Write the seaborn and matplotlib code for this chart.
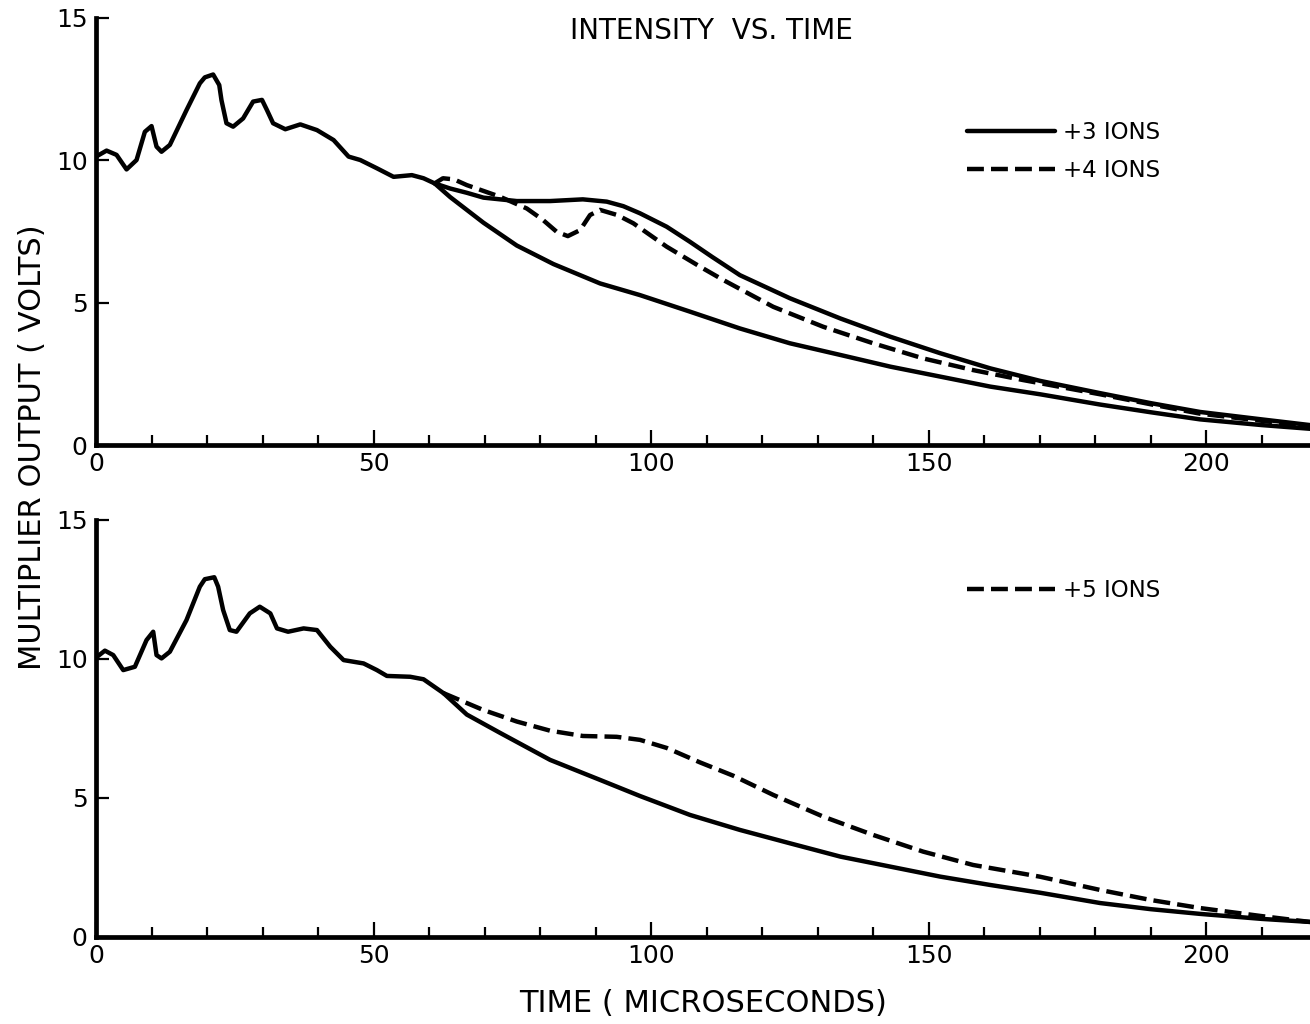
import matplotlib
matplotlib.use('Agg')
import matplotlib.pyplot as plt
from matplotlib.ticker import MultipleLocator
import numpy as np
import pandas as pd
import seaborn as sns

# ---- data (time in microseconds, output in volts) ----
# upper panel, part shared by all curves
t_top = [0, 1.9, 3.7, 5.5, 7.3, 8.8, 10.0, 10.9, 11.8, 13.3, 16.3, 18.7, 19.6, 21.1,
         22.2, 22.6, 23.5, 24.7, 26.5, 28.3, 29.9, 30.8, 31.9, 34.1, 36.8, 39.8,
         42.8, 45.5, 47.6, 50.6, 53.6, 56.9, 59.0, 61.0]
v_top = [10.12, 10.33, 10.18, 9.67, 10.0, 10.99, 11.19, 10.47, 10.29, 10.53, 11.75,
         12.69, 12.9, 13.0, 12.63, 12.1, 11.29, 11.17, 11.46, 12.05, 12.11, 11.75,
         11.29, 11.08, 11.25, 11.05, 10.7, 10.12, 10.0, 9.71, 9.41, 9.47, 9.36, 9.18]

# upper panel, lower unlabelled solid curve
t_low_top = [61.0, 63.8, 66.8, 69.8, 75.8, 82.4, 90.8, 98.0, 107.0, 116.0, 125.0,
             134.1, 143.1, 152.1, 161.1, 170.1, 180.9, 190.0, 198.9, 210.0, 218.7]
v_low_top = [9.18, 8.7, 8.25, 7.8, 7.0, 6.35, 5.67, 5.26, 4.68, 4.09, 3.57, 3.16,
             2.75, 2.4, 2.05, 1.78, 1.42, 1.15, 0.9, 0.7, 0.57]

# +3 ions
t_plus3 = [61.0, 63.8, 66.8, 69.8, 75.8, 81.8, 87.7, 92.0, 95.0, 98.0, 102.8, 107.0,
           111.0, 116.0, 125.0, 134.1, 143.1, 152.1, 161.1, 170.1, 180.9, 190.0,
           198.9, 210.0, 218.7]
v_plus3 = [9.18, 9.0, 8.85, 8.68, 8.56, 8.56, 8.62, 8.54, 8.38, 8.13, 7.66, 7.13,
           6.6, 5.96, 5.15, 4.44, 3.8, 3.22, 2.69, 2.25, 1.82, 1.47, 1.16, 0.9, 0.7]

# +4 ions
t_plus4 = [61.0, 62.5, 64.5, 66.8, 72.8, 77.6, 80.5, 83.0, 85.0, 87.2, 89.0, 90.8,
           93.9, 96.8, 102.8, 108.8, 113.0, 122.0, 131.0, 140.0, 149.0, 158.0,
           167.0, 180.9, 190.0, 198.9, 210.0, 218.7]
v_plus4 = [9.18, 9.36, 9.32, 9.12, 8.71, 8.3, 7.9, 7.48, 7.33, 7.54, 8.07, 8.25,
           8.07, 7.78, 6.96, 6.26, 5.79, 4.85, 4.15, 3.57, 3.04, 2.63, 2.28, 1.78,
           1.43, 1.1, 0.85, 0.65]

# lower panel, shared part
t_bot = [0, 1.6, 3.1, 4.9, 7.0, 9.1, 10.3, 10.9, 11.8, 13.3, 16.3, 18.7, 19.6, 21.3,
         22.0, 22.9, 24.1, 25.3, 27.7, 29.5, 31.4, 32.6, 34.6, 37.4, 39.8, 42.2,
         44.6, 48.2, 50.6, 52.4, 56.6, 59.0, 62.6]
v_bot = [10.05, 10.3, 10.14, 9.6, 9.72, 10.68, 10.98, 10.14, 10.02, 10.26, 11.4,
         12.6, 12.87, 12.94, 12.6, 11.76, 11.04, 10.98, 11.64, 11.88, 11.64, 11.1,
         10.98, 11.1, 11.04, 10.44, 9.96, 9.84, 9.6, 9.39, 9.36, 9.27, 8.77]

# lower panel, solid curve
t_low_bot = [62.6, 66.8, 72.8, 81.8, 90.8, 98.0, 107.0, 116.0, 125.0, 134.1, 143.1,
             152.1, 161.1, 170.1, 180.9, 190.0, 198.9, 210.0, 218.7]
v_low_bot = [8.77, 8.0, 7.34, 6.37, 5.65, 5.07, 4.39, 3.85, 3.37, 2.89, 2.53, 2.17,
             1.87, 1.59, 1.22, 1.0, 0.83, 0.65, 0.54]

# +5 ions
t_plus5 = [62.6, 69.7, 75.8, 81.8, 87.7, 93.8, 98.0, 102.8, 108.8, 114.8, 122.0,
           131.0, 140.0, 149.0, 158.0, 170.0, 180.9, 190.0, 198.9, 210.0, 218.7]
v_plus5 = [8.77, 8.17, 7.75, 7.42, 7.23, 7.2, 7.09, 6.8, 6.28, 5.8, 5.11, 4.33,
           3.67, 3.07, 2.59, 2.17, 1.69, 1.33, 1.04, 0.75, 0.54]

# ---- styling ----
sns.set_style('ticks', rc={'axes.edgecolor': 'black', 'xtick.color': 'black',
                           'ytick.color': 'black', 'text.color': 'black',
                           'axes.labelcolor': 'black'})
plt.rcParams['font.family'] = ['DejaVu Sans']

LW = 3.2
DASH = (0, (3.8, 1.6))
XMAX = 218.7

fig = plt.figure(figsize=(13.1, 10.24), dpi=100)
ax_top = fig.add_axes([0.0733, 0.5654, 0.9267, 0.4175])
ax_bot = fig.add_axes([0.0733, 0.0850, 0.9267, 0.4072])


def line(ax, t, v, dashed=False, label=None):
    sns.lineplot(x=t, y=v, ax=ax, color='black', lw=LW, errorbar=None,
                 linestyle=DASH if dashed else '-', label=label, legend=False,
                 solid_joinstyle='round', solid_capstyle='round')


line(ax_top, t_top, v_top)
line(ax_top, t_low_top, v_low_top)
line(ax_top, t_plus3, v_plus3, label='+3 IONS')
line(ax_top, t_plus4, v_plus4, dashed=True, label='+4 IONS')

line(ax_bot, t_bot, v_bot)
line(ax_bot, t_low_bot, v_low_bot)
line(ax_bot, t_plus5, v_plus5, dashed=True, label='+5 IONS')

for ax in (ax_top, ax_bot):
    ax.set_xlim(0, XMAX)
    ax.set_ylim(0, 15)
    sns.despine(ax=ax, top=True, right=True)
    ax.spines['left'].set_linewidth(3.4)
    ax.spines['bottom'].set_linewidth(3.4)
    ax.xaxis.set_major_locator(MultipleLocator(50))
    ax.xaxis.set_minor_locator(MultipleLocator(10))
    ax.yaxis.set_major_locator(MultipleLocator(5))
    ax.tick_params(axis='x', which='major', direction='in', length=11, width=1.6,
                   labelsize=18, pad=5)
    ax.tick_params(axis='x', which='minor', direction='in', length=7, width=1.6)
    ax.tick_params(axis='y', which='major', direction='in', length=9, width=1.6,
                   labelsize=18, pad=6)
    ax.set_xlabel('')
    ax.set_ylabel('')
    ax.set_facecolor('white')

ax_top.legend(loc='upper left', bbox_to_anchor=(0.7175, 0.759), frameon=False,
              fontsize=16.5, handlelength=3.85, handletextpad=0.35,
              labelspacing=0.66, borderpad=0, borderaxespad=0)
ax_bot.legend(loc='upper left', bbox_to_anchor=(0.7175, 0.859), frameon=False,
              fontsize=16.5, handlelength=3.85, handletextpad=0.35,
              borderpad=0, borderaxespad=0)

fig.text(0.543, 0.970, 'INTENSITY  VS. TIME', ha='center', va='center', fontsize=20)
fig.text(0.0245, 0.563, 'MULTIPLIER OUTPUT ( VOLTS)', ha='center', va='center',
         rotation=90, fontsize=22)
fig.text(0.537, 0.0205, 'TIME ( MICROSECONDS)', ha='center', va='center', fontsize=22)

fig.savefig('out.png', dpi=100, facecolor='white')
